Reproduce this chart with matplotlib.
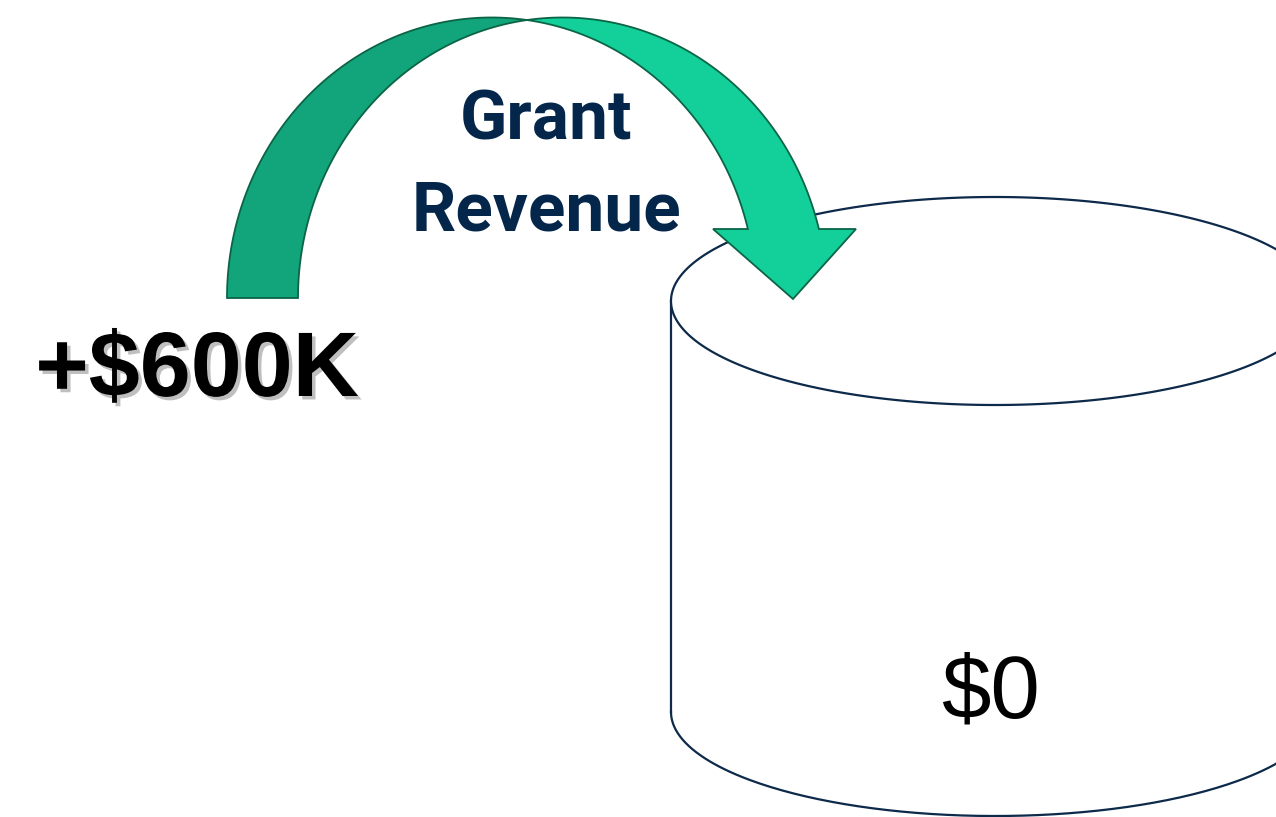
import numpy as np
import matplotlib.pyplot as plt
import matplotlib.patheffects as pe
from matplotlib.patches import Polygon

# labels / amounts shown in the diagram
flow_label = ["Grant", "Revenue"]
flow_amount = "+$600K"
pool_amount = "$0"

# colours
dark_green = "#12A57B"
light_green = "#13D09A"
edge_green = "#0B6446"
navy = "#0D2A4A"
text_navy = "#04264A"

W, H = 1276, 817
fig = plt.figure(figsize=(W / 100, H / 100), dpi=100)
ax = fig.add_axes([0, 0, 1, 1])
ax.set_xlim(0, W)
ax.set_ylim(H, 0)
ax.axis("off")

# --- cylinder (pixel coords, y down)
cx, a = 995, 324
top_cy, bot_cy, b = 301, 712, 104
t = np.linspace(0, 2 * np.pi, 400)
side_t = np.linspace(0, np.pi, 200)
body_x = np.concatenate([cx + a * np.cos(side_t), cx + a * np.cos(side_t[::-1])])
body_y = np.concatenate([bot_cy + b * np.sin(side_t), top_cy + 0 * side_t])
ax.fill(body_x, body_y, color="white", zorder=1)
ax.plot([cx - a, cx - a], [top_cy, bot_cy], color=navy, lw=1.6, zorder=1)
ax.plot([cx + a, cx + a], [top_cy, bot_cy], color=navy, lw=1.6, zorder=1)
ax.plot(cx + a * np.cos(side_t), bot_cy + b * np.sin(side_t), color=navy, lw=1.6, zorder=1)
ax.fill(cx + a * np.cos(t), top_cy + b * np.sin(t), facecolor="white",
        edgecolor=navy, lw=1.6, zorder=1)

# --- curved arrow: two equal ellipses shifted by the band thickness
c1, base_y, rx, ry, th = 491.5, 298, 264.5, 280.5, 71
ti = np.arccos((th / 2) / rx)
t_end = np.arcsin((base_y - 229) / ry)

def e1(ang):
    return c1 + rx * np.cos(ang), base_y - ry * np.sin(ang)

def e2(ang):
    return c1 + th + rx * np.cos(ang), base_y - ry * np.sin(ang)

# back (dark) part
x1, y1 = e1(np.linspace(np.pi, ti, 200))
x2, y2 = e2(np.linspace(np.pi - ti, np.pi, 200))
ax.add_patch(Polygon(np.column_stack([np.r_[x1, x2], np.r_[y1, y2]]),
                     closed=True, facecolor=dark_green, edgecolor=edge_green,
                     lw=1.3, zorder=2))

# front (light) part with head
x1, y1 = e1(np.linspace(ti, t_end, 200))
x2, y2 = e2(np.linspace(t_end, np.pi - ti, 200))
head_x = [713, 793, 856]
head_y = [229, 299, 229]
px = np.r_[x1, head_x, x2]
py = np.r_[y1, head_y, y2]
ax.add_patch(Polygon(np.column_stack([px, py]), closed=True,
                     facecolor=light_green, edgecolor=edge_green, lw=1.3, zorder=2))

# --- text
ax.text(546, 121, flow_label[0], ha="center", va="center", fontsize=50,
        fontweight="bold", family="Roboto", color=text_navy, zorder=3)
ax.text(546, 212, flow_label[1], ha="center", va="center", fontsize=50,
        fontweight="bold", family="Roboto", color=text_navy, zorder=3)
ax.text(197, 372, flow_amount, ha="center", va="center", fontsize=66,
        fontweight="bold", family="Liberation Sans", color="black", zorder=3,
        path_effects=[pe.withSimplePatchShadow(offset=(2.5, -2.5),
                                               shadow_rgbFace="#808080", alpha=0.5)])
ax.text(990, 694, pool_amount, ha="center", va="center", fontsize=64,
        family="Liberation Sans", color="black", zorder=3)

fig.savefig("out.png", dpi=100, facecolor="white")
